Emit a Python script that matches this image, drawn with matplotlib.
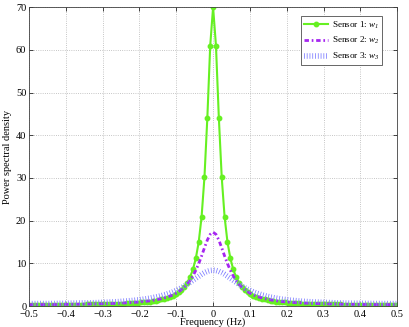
import numpy as np
import matplotlib
matplotlib.use("Agg")
import matplotlib.pyplot as plt

plt.rcParams["font.family"] = ["Liberation Serif", "DejaVu Serif"]
plt.rcParams["mathtext.fontset"] = "custom"
plt.rcParams["mathtext.rm"] = "Liberation Serif:italic"
plt.rcParams["mathtext.it"] = "Liberation Serif:italic"
plt.rcParams["mathtext.default"] = "it"

# PSD values (128-bin grid, -0.5 .. 0.5 Hz)
psd_sensor1 = [
    0.29, 0.29, 0.29, 0.29, 0.29, 0.29, 0.29, 0.29, 0.30, 0.30, 0.30, 0.31, 0.31,
    0.32, 0.32, 0.33, 0.33, 0.34, 0.35, 0.36, 0.37, 0.38, 0.39, 0.40, 0.41, 0.43,
    0.44, 0.46, 0.48, 0.50, 0.52, 0.54, 0.57, 0.60, 0.63, 0.67, 0.71, 0.75, 0.80,
    0.85, 0.92, 0.99, 1.07, 1.16, 1.27, 1.39, 1.54, 1.71, 1.91, 2.14, 2.44, 2.80,
    3.25, 3.81, 4.54, 5.51, 6.81, 8.61, 11.2, 15.0, 20.9, 30.2, 44.1, 61.0,
    70.0,
    61.0, 44.1, 30.2, 20.9, 15.0, 11.2, 8.61, 6.81, 5.51, 4.54, 3.81, 3.25, 2.80,
    2.44, 2.14, 1.91, 1.71, 1.54, 1.39, 1.27, 1.16, 1.07, 0.99, 0.92, 0.85, 0.80,
    0.75, 0.71, 0.67, 0.63, 0.60, 0.57, 0.54, 0.52, 0.50, 0.48, 0.46, 0.44, 0.43,
    0.41, 0.40, 0.39, 0.38, 0.37, 0.36, 0.35, 0.34, 0.33, 0.33, 0.32, 0.32, 0.31,
    0.31, 0.30, 0.30, 0.30, 0.29, 0.29, 0.29, 0.29, 0.29, 0.29, 0.29, 0.29,
]
psd_sensor2 = [
    0.34, 0.34, 0.34, 0.34, 0.35, 0.35, 0.35, 0.35, 0.36, 0.36, 0.36, 0.37, 0.37,
    0.38, 0.39, 0.39, 0.40, 0.41, 0.42, 0.43, 0.44, 0.45, 0.46, 0.48, 0.49, 0.51,
    0.53, 0.55, 0.57, 0.59, 0.61, 0.64, 0.67, 0.71, 0.74, 0.78, 0.83, 0.88, 0.93,
    0.99, 1.06, 1.14, 1.23, 1.33, 1.44, 1.57, 1.72, 1.90, 2.10, 2.33, 2.61, 2.95,
    3.35, 3.83, 4.41, 5.13, 6.00, 7.07, 8.38, 9.93, 11.73, 13.65, 15.46, 16.8,
    17.3,
    16.8, 15.46, 13.65, 11.73, 9.93, 8.38, 7.07, 6.00, 5.13, 4.41, 3.83, 3.35, 2.95,
    2.61, 2.33, 2.10, 1.90, 1.72, 1.57, 1.44, 1.33, 1.23, 1.14, 1.06, 0.99, 0.93,
    0.88, 0.83, 0.78, 0.74, 0.71, 0.67, 0.64, 0.61, 0.59, 0.57, 0.55, 0.53, 0.51,
    0.49, 0.48, 0.46, 0.45, 0.44, 0.43, 0.42, 0.41, 0.40, 0.39, 0.39, 0.38, 0.37,
    0.37, 0.36, 0.36, 0.36, 0.35, 0.35, 0.35, 0.35, 0.34, 0.34, 0.34, 0.34,
]
psd_sensor3 = [
    0.58, 0.58, 0.58, 0.59, 0.59, 0.59, 0.59, 0.60, 0.60, 0.61, 0.62, 0.62, 0.63,
    0.64, 0.65, 0.66, 0.67, 0.69, 0.70, 0.72, 0.73, 0.75, 0.77, 0.79, 0.82, 0.84,
    0.87, 0.90, 0.93, 0.97, 1.00, 1.04, 1.09, 1.14, 1.19, 1.25, 1.31, 1.38, 1.46,
    1.54, 1.63, 1.73, 1.85, 1.97, 2.11, 2.26, 2.43, 2.62, 2.83, 3.06, 3.32, 3.62,
    3.94, 4.29, 4.68, 5.11, 5.56, 6.03, 6.52, 6.99, 7.44, 7.83, 8.14, 8.34,
    8.40,
    8.34, 8.14, 7.83, 7.44, 6.99, 6.52, 6.03, 5.56, 5.11, 4.68, 4.29, 3.94, 3.62,
    3.32, 3.06, 2.83, 2.62, 2.43, 2.26, 2.11, 1.97, 1.85, 1.73, 1.63, 1.54, 1.46,
    1.38, 1.31, 1.25, 1.19, 1.14, 1.09, 1.04, 1.00, 0.97, 0.93, 0.90, 0.87, 0.84,
    0.82, 0.79, 0.77, 0.75, 0.73, 0.72, 0.70, 0.69, 0.67, 0.66, 0.65, 0.64, 0.63,
    0.62, 0.62, 0.61, 0.60, 0.60, 0.59, 0.59, 0.59, 0.59, 0.58, 0.58, 0.58,
]
labels = [r"Sensor 1: $w_1$", r"Sensor 2: $w_2$", r"Sensor 3: $w_3$"]

freq = np.linspace(-0.5, 0.5, len(psd_sensor1))

fig = plt.figure(figsize=(4.09, 3.27), dpi=100)
ax = fig.add_axes([0.071, 0.064, 0.900, 0.914])

ax.plot(freq, psd_sensor1, color="#66f022", lw=1.5, marker="o", ms=3.2,
        label=labels[0])
ax.plot(freq, psd_sensor2, color="#a526f0", lw=2.0,
        linestyle=(0, (1.6, 1.0, 0.6, 1.0)), label=labels[1])
ax.plot(freq, psd_sensor3, color="#7c7cff", lw=4.0,
        linestyle=(0, (0.14, 0.36)), dash_capstyle="butt", label=labels[2])

ax.set_xlim(-0.5, 0.5)
ax.set_ylim(0, 70)
ax.set_xticks(np.arange(-0.5, 0.51, 0.1))
ax.set_xticklabels(["\u22120.5", "\u22120.4", "\u22120.3", "\u22120.2", "\u22120.1", "0",
                    "0.1", "0.2", "0.3", "0.4", "0.5"])
ax.set_yticks(range(0, 71, 10))
ax.tick_params(direction="in", top=True, right=True, length=3, width=0.5,
               labelsize=7.5)
ax.tick_params(axis="x", pad=3)
ax.tick_params(axis="y", pad=2)
ax.grid(True, linestyle=":", color="0.7", lw=0.6)
for s in ax.spines.values():
    s.set_linewidth(0.6)
    s.set_color("0.25")

ax.set_xlabel("Frequency (Hz)", fontsize=7.5, labelpad=-1)
ax.set_ylabel("Power spectral density", fontsize=7.5, labelpad=3)

leg = ax.legend(loc="upper right", fontsize=6.6, fancybox=False, framealpha=1,
                edgecolor="0.3", handlelength=2.6, handletextpad=0.4,
                borderpad=0.35, labelspacing=0.5, borderaxespad=0,
                bbox_to_anchor=(0.96, 0.97))
leg.get_frame().set_linewidth(0.6)

fig.savefig("out.png", dpi=100)
